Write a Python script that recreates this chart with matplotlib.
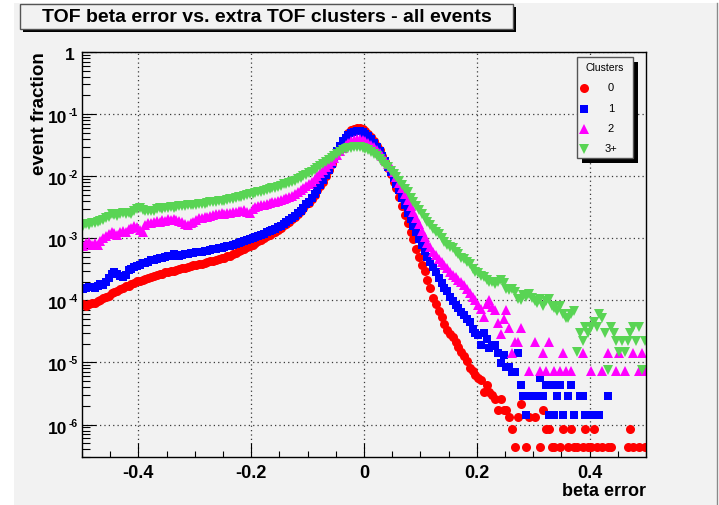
import matplotlib
matplotlib.use("Agg")
import matplotlib.pyplot as plt
import numpy as np
from matplotlib.patches import Rectangle
from matplotlib.lines import Line2D
from matplotlib.transforms import offset_copy
from matplotlib.ticker import FixedLocator, FuncFormatter, MultipleLocator, LogLocator, NullFormatter

plt.rcParams['font.family'] = ['Liberation Sans', 'DejaVu Sans']
plt.rcParams['font.weight'] = 'bold'

nan = np.nan

# 200 bins of beta error between -0.5 and 0.5 (bin centres)
beta_bins = np.linspace(-0.4975, 0.4975, 200)

# event fraction per bin, 0 extra clusters
frac_0 = [
    8.6e-5, 8.2e-5, 8.8e-5, 9.1e-5, 8.9e-5, 9.9e-5, 1.03e-4, 1.10e-4, 1.12e-4, 1.19e-4,
    1.30e-4, 1.38e-4, 1.42e-4, 1.52e-4, 1.60e-4, 1.70e-4, 1.73e-4, 1.84e-4, 1.92e-4, 2.04e-4,
    2.05e-4, 2.15e-4, 2.24e-4, 2.31e-4, 2.36e-4, 2.47e-4, 2.57e-4, 2.66e-4, 2.70e-4, 2.82e-4,
    2.90e-4, 2.99e-4, 2.97e-4, 3.10e-4, 3.18e-4, 3.30e-4, 3.35e-4, 3.44e-4, 3.55e-4, 3.66e-4,
    3.68e-4, 3.79e-4, 3.90e-4, 4.03e-4, 4.10e-4, 4.25e-4, 4.38e-4, 4.52e-4, 4.60e-4, 4.76e-4,
    4.90e-4, 5.09e-4, 5.25e-4, 5.52e-4, 5.85e-4, 6.16e-4, 6.45e-4, 6.78e-4, 7.20e-4, 7.62e-4,
    7.90e-4, 8.40e-4, 9.00e-4, 9.55e-4, 1.00e-3, 1.07e-3, 1.13e-3, 1.22e-3, 1.28e-3, 1.37e-3,
    1.49e-3, 1.62e-3, 1.72e-3, 1.86e-3, 2.04e-3, 2.24e-3, 2.48e-3, 2.77e-3, 3.10e-3, 3.50e-3,
    3.75e-3, 4.25e-3, 5.00e-3, 5.95e-3, 7.05e-3, 8.20e-3, 1.01e-2, 1.27e-2, 1.58e-2, 2.00e-2,
    2.53e-2, 3.05e-2, 3.68e-2, 4.28e-2, 4.95e-2, 5.45e-2, 5.80e-2, 5.95e-2, 5.95e-2, 5.72e-2,
    5.35e-2, 4.80e-2, 4.20e-2, 3.62e-2, 3.05e-2, 2.60e-2, 2.12e-2, 1.72e-2, 1.36e-2, 1.10e-2,
    8.10e-3, 6.45e-3, 4.60e-3, 3.35e-3, 2.40e-3, 1.75e-3, 1.26e-3, 9.70e-4, 6.80e-4, 5.05e-4,
    3.70e-4, 2.95e-4, 2.10e-4, 1.60e-4, 1.10e-4, 8.60e-5, 6.80e-5, 5.30e-5, 4.10e-5, 3.30e-5,
    2.90e-5, 2.60e-5, 2.10e-5, 1.75e-5, 1.50e-5, 1.25e-5, 1.05e-5, 8.2e-6, 7.3e-6, 6.3e-6,
    5.6e-6, 5.2e-6, 3.4e-6, 4.3e-6, 3.4e-6, 3.0e-6, 2.6e-6, 1.7e-6, 2.6e-6, 1.7e-6,
    1.7e-6, 1.3e-6, 8.6e-7, 4.3e-7, 1.3e-6, 2.15e-6, nan, 4.3e-7, 1.3e-6, nan,
    1.3e-6, nan, 4.3e-7, 1.7e-6, 8.6e-7, 8.6e-7, 4.3e-7, 4.3e-7, nan, 4.3e-7,
    8.6e-7, nan, 4.3e-7, 8.6e-7, 4.3e-7, 4.3e-7, nan, 4.3e-7, 8.6e-7, 4.3e-7,
    4.3e-7, 8.6e-7, 4.3e-7, nan, 4.3e-7, nan, 4.3e-7, 4.3e-7, nan, nan,
    nan, nan, nan, 4.3e-7, 8.6e-7, 4.3e-7, nan, 4.3e-7, nan, 4.3e-7]

# 1 extra cluster
frac_1 = [
    1.50e-4, 1.58e-4, 1.62e-4, 1.66e-4, 1.60e-4, 1.72e-4, 1.85e-4, 1.76e-4, 1.95e-4, 2.30e-4,
    2.65e-4, 2.85e-4, 2.70e-4, 2.45e-4, 2.38e-4, 2.60e-4, 3.05e-4, 3.25e-4, 3.45e-4, 3.60e-4,
    3.70e-4, 3.95e-4, 4.00e-4, 4.20e-4, 4.40e-4, 4.55e-4, 4.70e-4, 4.90e-4, 4.85e-4, 5.05e-4,
    5.10e-4, 5.25e-4, 5.50e-4, 5.38e-4, 5.20e-4, 5.45e-4, 5.50e-4, 5.62e-4, 5.75e-4, 5.85e-4,
    5.90e-4, 5.98e-4, 6.05e-4, 6.20e-4, 6.30e-4, 6.45e-4, 6.60e-4, 6.75e-4, 6.90e-4, 7.05e-4,
    7.25e-4, 7.40e-4, 7.55e-4, 7.80e-4, 8.10e-4, 8.35e-4, 8.65e-4, 8.95e-4, 9.25e-4, 9.65e-4,
    1.00e-3, 1.03e-3, 1.08e-3, 1.14e-3, 1.19e-3, 1.25e-3, 1.30e-3, 1.36e-3, 1.42e-3, 1.50e-3,
    1.60e-3, 1.69e-3, 1.82e-3, 1.95e-3, 2.10e-3, 2.28e-3, 2.52e-3, 2.80e-3, 3.10e-3, 3.55e-3,
    3.90e-3, 4.45e-3, 5.20e-3, 6.10e-3, 7.20e-3, 8.60e-3, 1.03e-2, 1.28e-2, 1.58e-2, 2.00e-2,
    2.55e-2, 3.05e-2, 3.62e-2, 4.15e-2, 4.62e-2, 4.98e-2, 5.22e-2, 5.32e-2, 5.30e-2, 5.15e-2,
    4.85e-2, 4.42e-2, 3.92e-2, 3.42e-2, 2.95e-2, 2.50e-2, 2.10e-2, 1.75e-2, 1.42e-2, 1.18e-2,
    9.4e-3, 7.5e-3, 5.9e-3, 4.5e-3, 3.45e-3, 2.60e-3, 2.05e-3, 1.60e-3, 1.25e-3, 9.7e-4,
    7.7e-4, 6.2e-4, 5.0e-4, 4.1e-4, 3.4e-4, 2.85e-4, 2.30e-4, 1.90e-4, 1.60e-4, 1.40e-4,
    1.15e-4, 9.8e-5, 8.5e-5, 7.6e-5, 6.5e-5, 5.8e-5, 5.1e-5, 4.4e-5, 3.5e-5, 2.95e-5,
    2.75e-5, 1.9e-5, 2.95e-5, 2.4e-5, 1.7e-5, 1.85e-5, 1.9e-5, 1.4e-5, 9.9e-6, 1.3e-5,
    8.5e-6, 8.5e-6, 7.1e-6, 7.1e-6, 1.42e-5, 4.26e-6, 2.84e-6, 1.42e-6, 2.84e-6, 2.84e-6,
    nan, 2.84e-6, 5.68e-6, 2.84e-6, 4.26e-6, 1.42e-6, 4.26e-6, 1.42e-6, 2.84e-6, 4.26e-6,
    1.42e-6, nan, 2.84e-6, 4.26e-6, 1.42e-6, nan, 2.84e-6, 2.84e-6, 1.42e-6, 1.42e-6,
    1.42e-6, nan, 1.42e-6, 1.42e-6, nan, nan, 2.84e-6, nan, nan, nan,
    nan, nan, nan, nan, nan, nan, nan, nan, nan, nan]

# 2 extra clusters
frac_2 = [
    7.6e-4, 8.3e-4, 8.6e-4, 7.9e-4, 8.4e-4, 7.7e-4, 9.2e-4, 1.02e-3, 1.10e-3, 1.17e-3,
    1.26e-3, 1.21e-3, 1.14e-3, 1.25e-3, 1.33e-3, 1.28e-3, 1.40e-3, 1.46e-3, 1.55e-3, 1.50e-3,
    1.35e-3, 1.28e-3, 1.62e-3, 1.78e-3, 1.75e-3, 1.85e-3, 1.90e-3, 1.84e-3, 1.95e-3, 1.90e-3,
    2.02e-3, 1.96e-3, 2.05e-3, 1.98e-3, 1.88e-3, 1.80e-3, 1.68e-3, 1.65e-3, 1.78e-3, 1.85e-3,
    2.00e-3, 2.10e-3, 2.12e-3, 2.20e-3, 2.24e-3, 2.30e-3, 2.33e-3, 2.42e-3, 2.45e-3, 2.52e-3,
    2.50e-3, 2.58e-3, 2.55e-3, 2.64e-3, 2.62e-3, 2.70e-3, 2.75e-3, 2.82e-3, 2.65e-3, 2.55e-3,
    2.95e-3, 3.20e-3, 3.25e-3, 3.42e-3, 3.45e-3, 3.58e-3, 3.68e-3, 3.82e-3, 3.88e-3, 4.00e-3,
    4.12e-3, 4.30e-3, 4.42e-3, 4.60e-3, 4.85e-3, 5.10e-3, 5.55e-3, 6.05e-3, 6.45e-3, 6.95e-3,
    7.50e-3, 8.20e-3, 8.90e-3, 9.90e-3, 1.11e-2, 1.25e-2, 1.42e-2, 1.58e-2, 1.78e-2, 1.98e-2,
    2.22e-2, 2.50e-2, 2.80e-2, 3.12e-2, 3.38e-2, 3.62e-2, 3.85e-2, 3.95e-2, 3.92e-2, 3.85e-2,
    3.65e-2, 3.42e-2, 3.18e-2, 2.90e-2, 2.62e-2, 2.32e-2, 2.08e-2, 1.83e-2, 1.60e-2, 1.38e-2,
    1.15e-2, 9.6e-3, 7.9e-3, 6.4e-3, 5.2e-3, 4.2e-3, 3.35e-3, 2.65e-3, 2.10e-3, 1.68e-3,
    1.32e-3, 1.05e-3, 8.5e-4, 7.2e-4, 6.0e-4, 5.3e-4, 4.6e-4, 4.2e-4, 3.7e-4, 3.3e-4,
    2.9e-4, 2.6e-4, 2.35e-4, 2.15e-4, 1.95e-4, 1.78e-4, 1.50e-4, 1.30e-4, 1.14e-4, 1.00e-4,
    8.3e-5, 7.2e-5, 5.4e-5, 8.6e-5, 1.0e-4, 7.9e-5, 6.9e-5, 4.3e-5, 2.9e-5, 5.0e-5,
    6.9e-5, 3.6e-5, 1.44e-5, 2.16e-5, 2.16e-5, 3.6e-5, nan, nan, 7.2e-6, nan,
    2.16e-5, nan, 7.2e-6, 1.44e-5, 7.2e-6, 2.16e-5, nan, 7.2e-6, nan, 7.2e-6,
    1.44e-5, 7.2e-6, nan, 7.2e-6, nan, nan, nan, 1.44e-5, nan, nan,
    7.2e-6, nan, nan, nan, 7.2e-6, nan, 1.44e-5, nan, nan, 7.2e-6,
    1.44e-5, nan, 7.2e-6, nan, nan, 1.44e-5, nan, 7.2e-6, 1.44e-5, 7.2e-6]

# 3 or more extra clusters
frac_3 = [
    1.55e-3, 1.68e-3, 1.62e-3, 1.78e-3, 1.74e-3, 1.80e-3, 1.92e-3, 1.98e-3, 2.10e-3, 2.24e-3,
    2.50e-3, 2.35e-3, 2.30e-3, 2.45e-3, 2.52e-3, 2.46e-3, 2.60e-3, 2.50e-3, 2.75e-3, 2.92e-3,
    3.02e-3, 2.90e-3, 2.70e-3, 2.76e-3, 2.80e-3, 2.74e-3, 2.92e-3, 3.02e-3, 3.00e-3, 3.10e-3,
    3.05e-3, 3.15e-3, 3.12e-3, 3.20e-3, 3.25e-3, 3.30e-3, 3.32e-3, 3.40e-3, 3.38e-3, 3.45e-3,
    3.48e-3, 3.55e-3, 3.52e-3, 3.62e-3, 3.70e-3, 3.80e-3, 3.80e-3, 3.88e-3, 3.92e-3, 3.98e-3,
    4.05e-3, 4.15e-3, 4.25e-3, 4.35e-3, 4.45e-3, 4.58e-3, 4.68e-3, 4.80e-3, 4.95e-3, 5.15e-3,
    5.22e-3, 5.40e-3, 5.48e-3, 5.65e-3, 5.85e-3, 6.05e-3, 6.15e-3, 6.35e-3, 6.55e-3, 6.80e-3,
    6.95e-3, 7.35e-3, 7.50e-3, 7.82e-3, 8.00e-3, 8.45e-3, 8.95e-3, 9.35e-3, 9.90e-3, 1.05e-2,
    1.12e-2, 1.18e-2, 1.26e-2, 1.35e-2, 1.45e-2, 1.55e-2, 1.68e-2, 1.80e-2, 1.95e-2, 2.10e-2,
    2.28e-2, 2.45e-2, 2.60e-2, 2.72e-2, 2.82e-2, 2.88e-2, 2.92e-2, 2.92e-2, 2.90e-2, 2.85e-2,
    2.75e-2, 2.62e-2, 2.45e-2, 2.25e-2, 2.08e-2, 1.88e-2, 1.70e-2, 1.52e-2, 1.38e-2, 1.22e-2,
    1.10e-2, 9.6e-3, 8.4e-3, 7.3e-3, 6.3e-3, 5.5e-3, 4.5e-3, 3.8e-3, 3.3e-3, 2.9e-3,
    2.45e-3, 2.10e-3, 1.82e-3, 1.62e-3, 1.42e-3, 1.28e-3, 1.15e-3, 1.00e-3, 8.6e-4, 7.8e-4,
    7.3e-4, 6.9e-4, 6.1e-4, 5.5e-4, 4.9e-4, 4.6e-4, 4.2e-4, 3.8e-4, 3.2e-4, 2.85e-4,
    2.75e-4, 2.45e-4, 2.35e-4, 2.15e-4, 2.0e-4, 1.95e-4, 1.85e-4, 1.95e-4, 2.1e-4, 1.9e-4,
    1.5e-4, 1.45e-4, 1.55e-4, 1.35e-4, 1.05e-4, 1.0e-4, 1.2e-4, 1.15e-4, 1.25e-4, 1.1e-4,
    9.75e-5, 9.0e-5, 1.05e-4, 8.25e-5, 9.75e-5, 1.05e-4, 8.25e-5, 7.5e-5, 6.75e-5, 8.25e-5,
    6.0e-5, 5.25e-5, 5.25e-5, 6.0e-5, 6.75e-5, 1.5e-5, 3.0e-5, 2.25e-5, 3.75e-5, 3.0e-5,
    3.75e-5, 4.5e-5, 3.75e-5, 6.0e-5, 5.25e-5, 3.0e-5, 7.5e-6, 3.75e-5, 3.0e-5, 2.25e-5,
    1.5e-5, 2.25e-5, 1.5e-5, 2.25e-5, 3.0e-5, 3.75e-5, 2.25e-5, 3.75e-5, 7.5e-6, 2.25e-5]

cluster_labels = ['0', '1', '2', '3+']
x_ticks = [-0.4, -0.2, 0.0, 0.2, 0.4]
y_ticks = [1e-6, 1e-5, 1e-4, 1e-3, 1e-2, 1e-1]
y_exps = ['-6', '-5', '-4', '-3', '-2', '-1']

W, H = 719, 505
canvas = '#f2f2f2'
series = [
    (frac_0, 'o', '#ff0000', 6.5),
    (frac_1, 's', '#0000ff', 5.7),
    (frac_2, '^', '#ff00ff', 6.8),
    (frac_3, 'v', '#59d454', 6.8),
]


def px(x, y):
    # pixel position (from top left) -> figure fraction
    return x / W, 1 - y / H


def box(x0, y0, x1, y1, **kw):
    return Rectangle((x0 / W, 1 - y1 / H), (x1 - x0) / W, (y1 - y0) / H,
                     transform=fig.transFigure, **kw)


fig = plt.figure(figsize=(W / 100, H / 100), dpi=100, facecolor='white')
fig.add_artist(box(14, 3, 717, H, facecolor=canvas, edgecolor='none', zorder=-5))
fig.add_artist(Line2D([717 / W, 717 / W], [0, 1 - 3 / H], transform=fig.transFigure,
                      color='#8a8a8a', lw=1, zorder=-4))

ax = fig.add_axes([82 / W, 1 - 457 / H, 564 / W, 405 / H])
ax.set_facecolor(canvas)

for vals, m, c, ms in series:
    ax.plot(beta_bins, vals, ls='none', marker=m, ms=ms, mfc=c, mec=c, mew=0)

ax.set_yscale('log')
ax.set_xlim(-0.5, 0.5)
ax.set_ylim(3e-7, 1)

ax.xaxis.set_major_locator(FixedLocator(x_ticks))
ax.xaxis.set_minor_locator(MultipleLocator(0.05))
ax.xaxis.set_major_formatter(FuncFormatter(lambda v, p: '0' if abs(v) < 1e-9 else f'{v:.1f}'))

ax.yaxis.set_major_locator(FixedLocator(y_ticks + [1]))
ax.yaxis.set_minor_locator(LogLocator(base=10, subs=np.arange(2, 10), numticks=20))
ax.yaxis.set_major_formatter(NullFormatter())
ax.yaxis.set_minor_formatter(NullFormatter())

# ROOT style labels: big "10" with a small exponent
ytr = ax.get_yaxis_transform()
for v, e in zip(y_ticks, y_exps):
    ax.text(0, v, '10', transform=offset_copy(ytr, fig=fig, x=-14.5, y=-4.5, units='dots'),
            ha='right', va='center', fontsize=12.5, fontweight='bold')
    ax.text(0, v, e, transform=offset_copy(ytr, fig=fig, x=-4.5, y=1, units='dots'),
            ha='right', va='center', fontsize=7.5, fontweight='bold')
ax.text(0, 1, '1', transform=offset_copy(ytr, fig=fig, x=-7, y=-4, units='dots'),
        ha='right', va='center', fontsize=12.5, fontweight='bold')

ax.tick_params(which='both', direction='in', top=False, right=False, color='black', width=0.8)
ax.tick_params(which='major', length=10)
ax.tick_params(axis='x', which='minor', length=4.5)
ax.tick_params(axis='y', which='minor', length=5.5)
ax.tick_params(axis='x', labelsize=13, pad=6)
for s in ax.spines.values():
    s.set_linewidth(1.0)
    s.set_color('black')

ax.set_axisbelow(True)
ax.grid(True, which='major', color='#3a3a3a', linestyle=(0, (1, 2.5)), linewidth=0.9)

# axis titles
fig.text(*px(646, 491), 'beta error', ha='right', va='center', fontsize=13, fontweight='bold')
fig.text(*px(39, 52), 'event fraction', rotation=90, ha='center', va='top',
         fontsize=13.5, fontweight='bold')

# title box with shadow
fig.add_artist(box(23, 7, 516, 32, facecolor='black', edgecolor='none', zorder=5))
fig.add_artist(box(20, 4, 513, 29, facecolor=canvas, edgecolor='#555555', lw=1, zorder=6))
fig.text(*px(266.5, 17), 'TOF beta error vs. extra TOF clusters - all events',
         ha='center', va='center', fontsize=14, fontweight='bold', zorder=7)

# legend
fig.add_artist(box(582, 62, 638, 163, facecolor='black', edgecolor='none', zorder=5))
fig.add_artist(box(577, 57, 633, 158, facecolor=canvas, edgecolor='#555555', lw=1, zorder=6))
fig.text(*px(605, 68), 'Clusters', ha='center', va='center', fontsize=7.5,
         fontweight='normal', zorder=7)
for (vals, m, c, ms), lab, yy in zip(series, cluster_labels, [88, 109, 129, 149]):
    mx, my = px(583.5, yy)
    fig.add_artist(Line2D([mx], [my], transform=fig.transFigure, ls='none', marker=m,
                          ms=ms, mfc=c, mec=c, mew=0, zorder=7))
    fig.text(*px(611, yy), lab, ha='center', va='center', fontsize=8,
             fontweight='normal', zorder=7)

fig.savefig('out.png', dpi=100, facecolor='white')
